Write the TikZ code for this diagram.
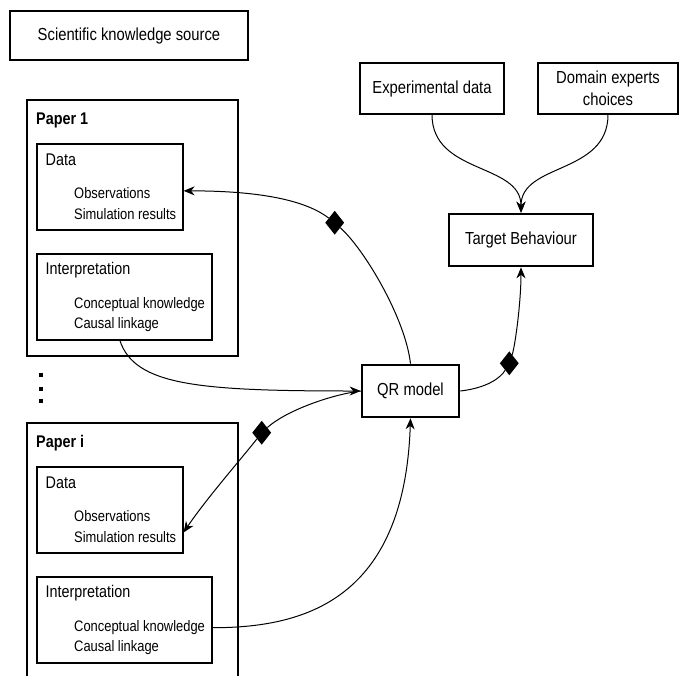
\documentclass[tikz,border=0pt]{standalone}
\usepackage{fontspec}
\setmainfont[FakeStretch=0.85]{Liberation Sans}
\usetikzlibrary{arrows.meta,shapes.geometric}
\newcommand{\szbig}{\fontsize{17.4}{22.5}\selectfont}
\newcommand{\szhead}{\fontsize{16.9}{20}\selectfont}
\newcommand{\szitem}{\fontsize{15.2}{20.5}\selectfont}
\tikzset{
  thinbox/.style={draw,line width=1.2pt,inner sep=0pt,align=center,font=\szbig},
  thickbox/.style={draw,line width=2.6pt,inner sep=0pt,align=center,font=\szbig},
  paperbox/.style={draw,line width=2.6pt,inner sep=0pt},
  partbox/.style={draw,line width=1.2pt,inner sep=0pt},
  paperlabel/.style={anchor=base west,inner sep=0pt,font=\szhead\bfseries},
  parthead/.style={anchor=base west,inner sep=0pt,font=\szhead},
  partitems/.style={anchor=base west,inner sep=0pt,align=left,font=\szitem},
  wire/.style={line width=1pt},
  link/.style={wire,-{Stealth[length=11pt,width=9pt,inset=3.5pt]}},
  agg/.style={diamond,fill,inner sep=0pt,minimum width=19pt,minimum height=24pt},
}

\begin{document}
\begin{tikzpicture}[x=1pt,y=-1pt]
  \useasboundingbox (0,0) rectangle (679,675);
  \node[thinbox,minimum width=238,minimum height=49](src) at (129,35.5){Scientific knowledge source};

  % paper 1
  \node[paperbox,minimum width=211,minimum height=256](p1) at (132.5,228){};
  \node[paperlabel](p1lab) at (36,124.5){Paper 1};
  \node[partbox,minimum width=146,minimum height=86](d1) at (110,187){};
  \node[parthead](d1lab) at (45.5,165.5){Data};
  \node[partitems](d1txt) at (74,219){Observations\\Simulation results};
  \node[partbox,minimum width=175,minimum height=86](i1) at (124.5,297){};
  \node[parthead](i1lab) at (45.5,274.5){Interpretation};
  \node[partitems](i1txt) at (74,328.5){Conceptual knowledge\\Causal linkage};

  \foreach \y in {375,389,400.5}
    \fill (39.3,\y-2) rectangle +(4,4);

  % paper i
  \node[paperbox,minimum width=211,minimum height=267](pi) at (132.5,556.5){};
  \node[paperlabel](pilab) at (36,447.5){Paper i};
  \node[partbox,minimum width=146,minimum height=86](di) at (110,510){};
  \node[parthead](dilab) at (45.5,488.5){Data};
  \node[partitems](ditxt) at (74,542){Observations\\Simulation results};
  \node[partbox,minimum width=175,minimum height=86](ii) at (124.5,620){};
  \node[parthead](iilab) at (45.5,597.5){Interpretation};
  \node[partitems](iitxt) at (74,651.5){Conceptual knowledge\\Causal linkage};

  % model and behaviour
  \node[thickbox,minimum width=97,minimum height=52](qr) at (410.5,391){QR model};
  \node[thickbox,minimum width=144,minimum height=52](tb) at (521,240){Target Behaviour};
  \node[thinbox,minimum width=144,minimum height=51](exp) at (432,88.5){Experimental data};
  \node[thinbox,minimum width=140,minimum height=51](dom) at (608,88.5){Domain experts\\choices};

  \node[agg](dm1) at (334.7,222.7){};
  \node[agg](dm2) at (261.7,432.7){};
  \node[agg](dm3) at (509.3,363.3){};

  \draw[link] (exp.south) .. controls +(0,60) and +(0,-50) .. (tb.north);
  \draw[link] (dom.south) .. controls +(0,60) and +(0,-50) .. (tb.north);
  \draw[wire] (qr.east) .. controls +(26,-3) and +(-9,15) .. (dm3);
  \draw[link] (dm3) .. controls +(6,-18) and +(0,34) .. (tb.south);
  \draw[wire] (qr.north) .. controls +(-5,-45) and +(30,27) .. (dm1);
  \draw[link] (dm1) .. controls +(-35,-27) and +(57,0) .. (d1.-3);
  \draw[link] (i1.-96) .. controls +(15,45) and +(-162,0) .. (qr.west);
  \draw[wire] (qr.west) .. controls +(-32,4) and +(23,-21) .. (dm2);
  \draw[link] (dm2) .. controls +(-17,22) and +(22,-33) .. (di.-17);
  \draw[link] (ii.-5) .. controls +(90,0) and +(-6,183) .. (qr.south);
\end{tikzpicture}
\end{document}
